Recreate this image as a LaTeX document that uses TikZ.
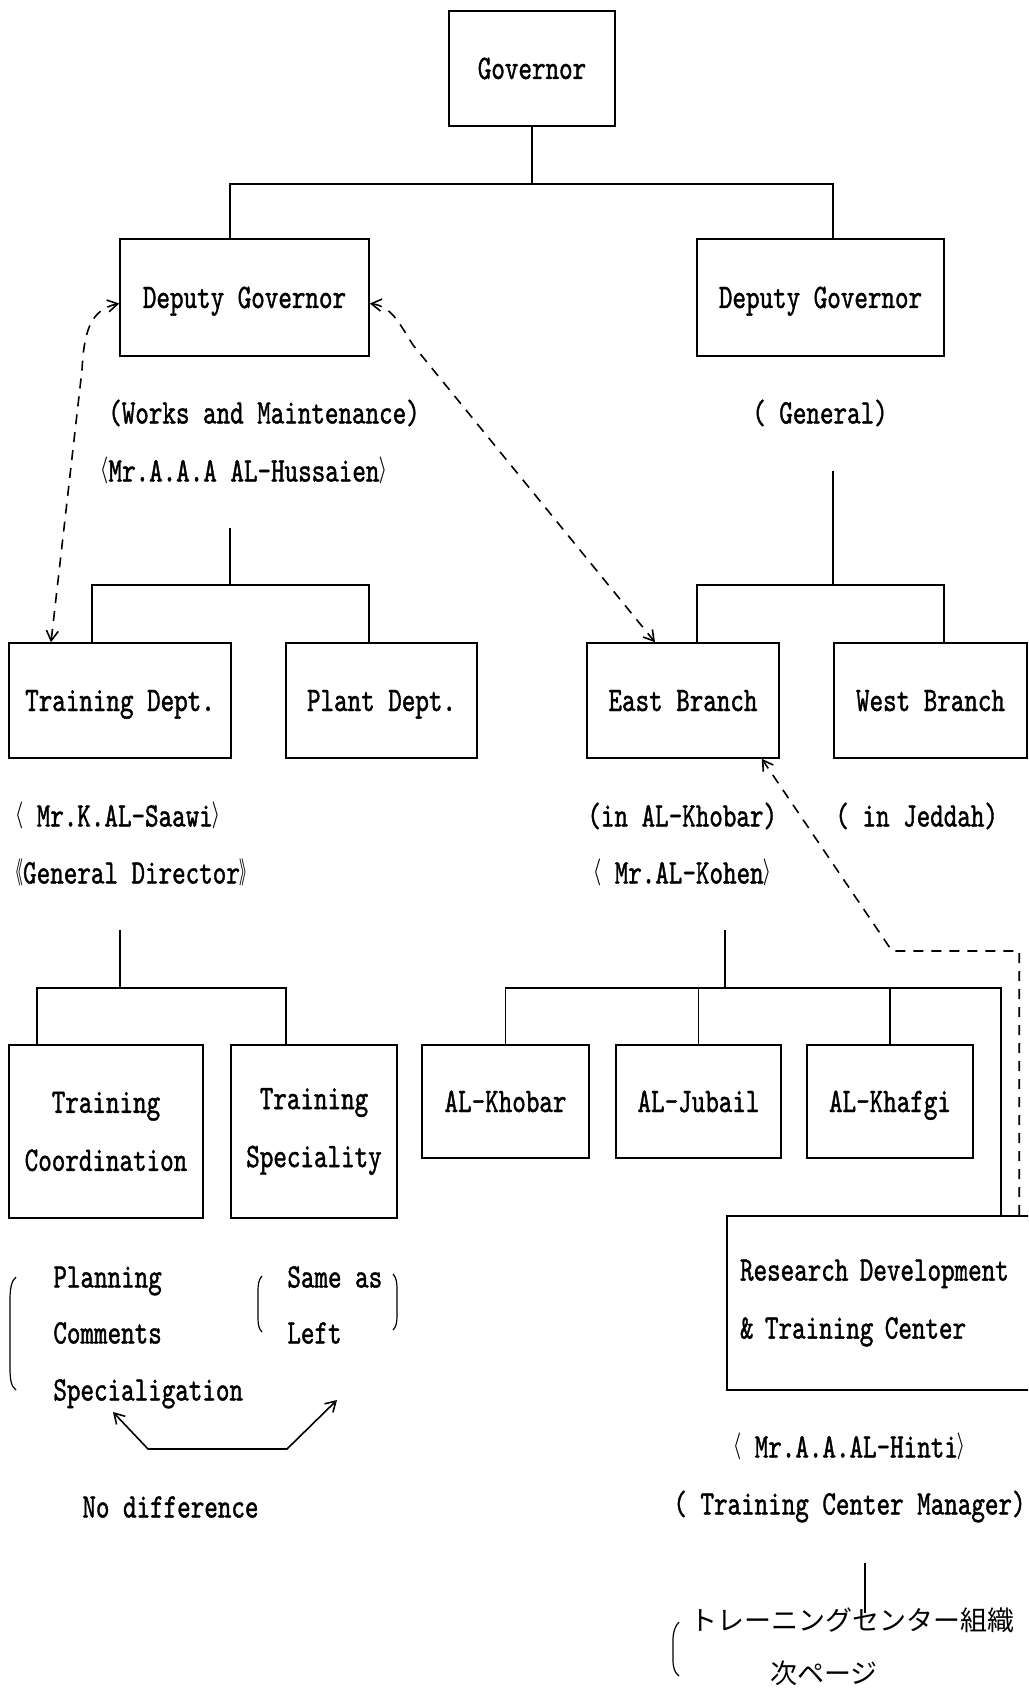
\documentclass[tikz,border=0pt]{standalone}
\usepackage{fontspec}
\usepackage{graphicx}
\setmainfont{lmmono10-regular}[Extension=.otf,FakeStretch=0.75,FakeBold=1.2]
\newfontfamily\cjk{Noto Sans CJK JP}
\usetikzlibrary{arrows.meta}
% narrow brackets taken from the CJK font
\newcommand\langbr{{\cjk\scalebox{0.4}[0.85]{〈}}}
\newcommand\rangbr{{\cjk\scalebox{0.4}[0.85]{〉}}}
\newcommand\ldangbr{{\cjk\scalebox{0.4}[0.85]{《}}}
\newcommand\rdangbr{{\cjk\scalebox{0.4}[0.85]{》}}}
\begin{document}
\begin{tikzpicture}[
    x=0.5pt, y=-0.5pt, % one unit per pixel of the scan
    font=\fontsize{17.2}{29}\selectfont,
    >={Straight Barb[length=5pt,width=6pt]},
    box/.style={rectangle,draw,line width=0.8pt,inner sep=0pt,align=center},
    oneline/.style={text height=10.5pt,text depth=0pt},
    lbl/.style={inner sep=0pt,anchor=west,text height=10.5pt,text depth=0pt},
    jp/.style={lbl,font=\cjk\fontsize{13.5}{13.5}\selectfont},
    link/.style={line width=0.8pt},
    dashlink/.style={line width=0.8pt,dash pattern=on 5pt off 4pt},
    paren/.style={line width=0.6pt}
]
    \clip (0,0) rectangle (1028,1690);

    % Boxes of the chart
    \node[box,oneline,minimum width=83pt,minimum height=57.5pt] (gov) at (532,68.5) {Governor};
    \node[box,oneline,minimum width=124.5pt,minimum height=58.5pt] (dgl) at (244.5,297.5) {Deputy Governor};
    \node[box,oneline,minimum width=123.5pt,minimum height=58.5pt] (dgr) at (820.5,297.5) {Deputy Governor};
    \node[box,oneline,minimum width=111pt,minimum height=57.5pt] (tdept) at (120,700.5) {Training Dept.};
    \node[box,oneline,minimum width=95.5pt,minimum height=57.5pt] (plant) at (381.5,700.5) {Plant Dept.};
    \node[box,oneline,minimum width=96pt,minimum height=57.5pt] (east) at (683,700.5) {East Branch};
    \node[box,oneline,minimum width=96.5pt,minimum height=57.5pt] (west) at (930.5,700.5) {West Branch};
    \node[box,minimum width=97pt,minimum height=86.5pt] (tcoord) at (106,1131.5) {Training\\Coordination};
    \node[box,minimum width=83pt,minimum height=86.5pt] (tspec) at (314,1131.5) {Training\\Speciality};
    \node[box,oneline,minimum width=83.5pt,minimum height=56.5pt] (khobar) at (505.5,1101.5) {AL-Khobar};
    \node[box,oneline,minimum width=82.5pt,minimum height=56.5pt] (jubail) at (698.5,1101.5) {AL-Jubail};
    \node[box,oneline,minimum width=83pt,minimum height=56.5pt] (khafgi) at (890,1101.5) {AL-Khafgi};
    \node[box,align=left,text width=143.5pt,inner xsep=6.5pt,minimum height=87pt] (rdtc) at (883.5,1303) {Research Development\\\& Training Center};

    % Texts under the boxes
    \node[lbl,anchor=center] (works) at (264,413) {(Works and Maintenance)};
    \node[lbl,anchor=center] (huss) at (244,471) {\langbr Mr.A.A.A AL-Hussaien\rangbr};
    \node[lbl,anchor=center] (gen) at (820,413) {( General)};
    \node[lbl] (saawi) at (9,816) {\langbr\ Mr.K.AL-Saawi\rangbr};
    \node[lbl] (gdir) at (9,873) {\ldangbr General Director\rdangbr};
    \node[lbl] (inkhob) at (587,816) {(in AL-Khobar)};
    \node[lbl] (injed) at (835,816) {( in Jeddah)};
    \node[lbl] (kohen) at (587,873) {\langbr\ Mr.AL-Kohen\rangbr};
    \node[lbl] (plan) at (53,1277) {Planning};
    \node[lbl] (comm) at (53,1333) {Comments};
    \node[lbl] (spec) at (53,1390) {Specialigation};
    \node[lbl] (same) at (287,1277) {Same as};
    \node[lbl] (left) at (287,1333) {Left};
    \node[lbl] (nodiff) at (82,1507) {No difference};
    \node[lbl] (hinti) at (727,1447) {\langbr\ Mr.A.A.AL-Hinti\rangbr};
    \node[lbl] (mgr) at (673,1504) {( Training Center Manager)};
    \node[jp] (jp1) at (690,1620) {トレーニングセンター組織};
    \node[jp] (jp2) at (770,1673) {次ページ};

    % Free ends of the stubs
    \coordinate (wmj) at (230,528);
    \coordinate (gnj) at (833,471);
    \coordinate (tdj) at (120,930);
    \coordinate (ebj) at (725,930);
    \coordinate (mgj) at (865,1563);
    \coordinate (diffl) at (113,1412);
    \coordinate (diffr) at (337,1400);

    % Tree lines
    \draw[link] (gov.south) -- ++(0,57) coordinate (gj) -| ([xshift=-7.25pt]dgl.north)
        (gj) -| ([xshift=6.25pt]dgr.north);
    \draw[link] (wmj) -- ++(0,57) coordinate (wmb) -| ([xshift=-14pt]tdept.north)
        (wmb) -| ([xshift=-6.25pt]plant.north);
    \draw[link] (gnj) -- ++(0,114) coordinate (gnb) -| ([xshift=7pt]east.north)
        (gnb) -| ([xshift=6.75pt]west.north);
    \draw[link] (tdj) -- ++(0,58) coordinate (tdb) -| ([xshift=-34.5pt]tcoord.north)
        (tdb) -| ([xshift=-14pt]tspec.north);
    \draw[link] (ebj) -- ++(0,58) coordinate (ebb) -| (khobar.north)
        (ebb) -| (jubail.north) (ebb) -| (khafgi.north)
        (ebb) -| ([xshift=137.5pt]rdtc.north west);
    \draw[link] (mgj) -- ++(0,50);

    % Dashed links
    \draw[dashlink,<->] ([yshift=-3pt]dgl.west) .. controls +(-28,6) and +(2,-40) .. (82,370)
        -- ([xshift=-34.5pt]tdept.north);
    \draw[dashlink,<->] ([yshift=-3pt]dgl.east) .. controls +(22,3) and +(-14,-22) .. (413,345)
        -- ([xshift=-14pt]east.north);
    \draw[dashlink,->] ([xshift=146.5pt]rdtc.north west) |- (892,951)
        -- ([xshift=-9pt]east.south east);

    % No difference
    \draw[link,<->] (diffl) -- (148,1449) -- (287,1449) -- (diffr);

    % Brackets
    \draw[paren] (16,1277) .. controls (11,1281) and (10,1290) .. (10,1300) -- (10,1367)
        .. controls (10,1380) and (11,1386) .. (16,1390);
    \draw[paren] (262,1276) .. controls (259,1279) and (258,1284) .. (258,1290) -- (258,1318)
        .. controls (258,1325) and (259,1329) .. (262,1332);
    \draw[paren] (393,1274) .. controls (396,1277) and (397,1282) .. (397,1288) -- (397,1316)
        .. controls (397,1323) and (396,1327) .. (393,1330);
    \draw[paren] (679,1622) .. controls (675,1626) and (673,1632) .. (673,1640) -- (673,1660)
        .. controls (673,1668) and (675,1673) .. (679,1676);
\end{tikzpicture}
\end{document}
